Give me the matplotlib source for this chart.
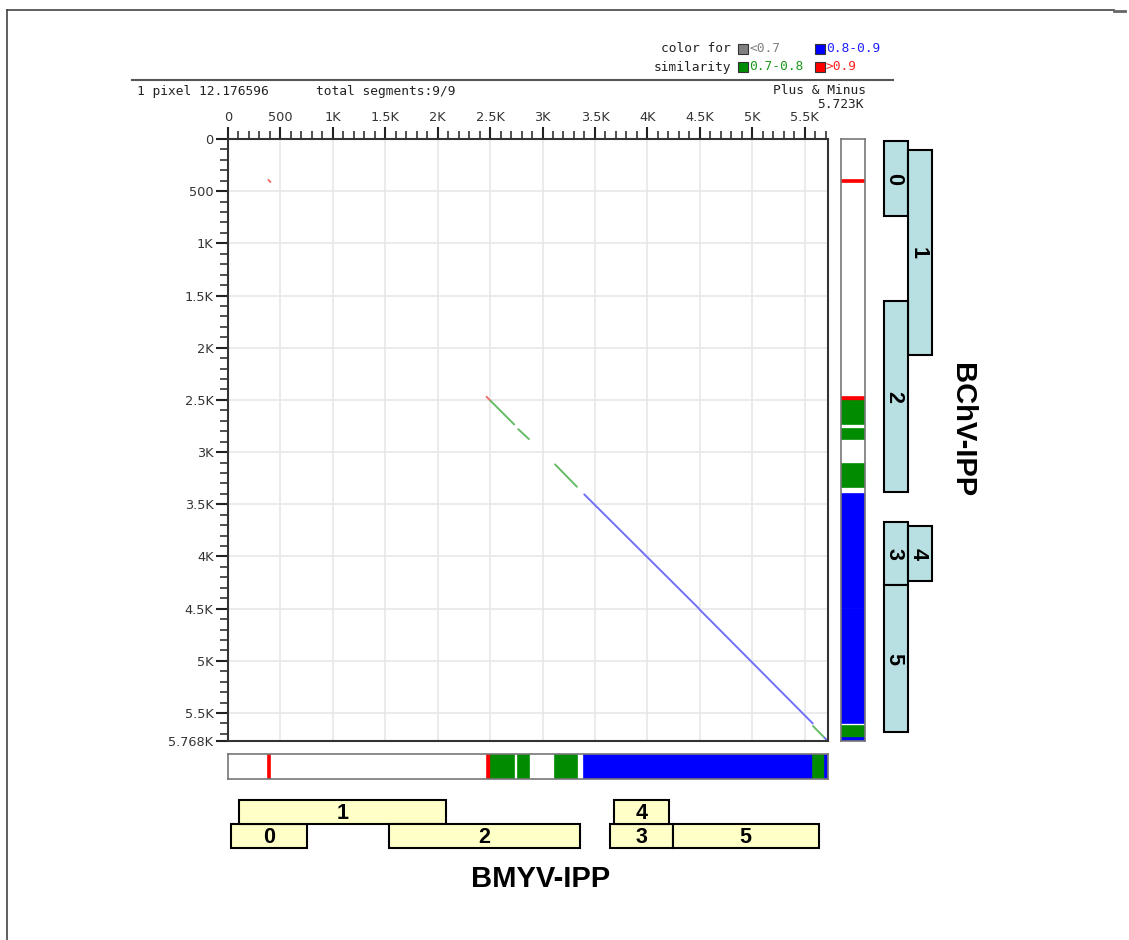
import matplotlib
matplotlib.use("Agg")
import matplotlib.pyplot as plt
from matplotlib.patches import Rectangle
from matplotlib.ticker import MultipleLocator

# ---- genome lengths ----
len_x = 5723   # BMYV-IPP
len_y = 5768   # BChV-IPP
name_x = "BMYV-IPP"
name_y = "BChV-IPP"

# ---- aligned segments (bp), similarity class per segment ----
seg_x1 = [385, 2466, 2504, 2768, 3120, 3398, 4495, 5580, 5690]
seg_x2 = [405, 2504, 2730, 2870, 3328, 4490, 5578, 5688, 5723]
seg_y1 = [392, 2470, 2508, 2780, 3118, 3405, 4505, 5625, 5738]
seg_y2 = [412, 2508, 2735, 2875, 3332, 4497, 5600, 5735, 5768]
seg_cls = ["gt09", "gt09", "07_08", "07_08", "07_08", "08_09", "08_09", "07_08", "08_09"]

# ---- ORF annotation ----
genes_x_name = ["0", "1", "2", "3", "4", "5"]
genes_x_start = [29, 105, 1535, 3642, 3680, 4242]
genes_x_end = [753, 2078, 3356, 4242, 4204, 5634]
genes_x_row = [0, 1, 0, 0, 1, 0]

genes_y_name = ["0", "1", "2", "3", "4", "5"]
genes_y_start = [23, 105, 1555, 3673, 3711, 4278]
genes_y_end = [742, 2073, 3386, 4278, 4239, 5684]
genes_y_col = [0, 1, 0, 0, 1, 0]

# ---- axis ticks ----
x_ticks = [0, 500, 1000, 1500, 2000, 2500, 3000, 3500, 4000, 4500, 5000, 5500]
x_tick_labels = ["0", "500", "1K", "1.5K", "2K", "2.5K", "3K", "3.5K", "4K", "4.5K", "5K", "5.5K"]
y_ticks = [0, 500, 1000, 1500, 2000, 2500, 3000, 3500, 4000, 4500, 5000, 5500, 5768]
y_tick_labels = ["0", "500", "1K", "1.5K", "2K", "2.5K", "3K", "3.5K", "4K", "4.5K", "5K", "5.5K", "5.768K"]

# ---- colours ----
bar_color = {"lt07": "#808080", "07_08": "#008c00", "08_09": "#0000ff", "gt09": "#ff0000"}
line_color = {"lt07": "#a0a0a0", "07_08": "#66bb66", "08_09": "#7070f8", "gt09": "#f07070"}
text_color = {"lt07": "#808080", "07_08": "#1a9a1a", "08_09": "#2020ff", "gt09": "#ff2020"}

W, H = 1129, 940
fig = plt.figure(figsize=(W / 100, H / 100), dpi=100)
fig.patch.set_facecolor("white")


def px_axes(x0, y0, x1, y1, **kw):
    return fig.add_axes([x0 / W, 1 - y1 / H, (x1 - x0) / W, (y1 - y0) / H], **kw)


# ---- overlay for header and page frame ----
ov = px_axes(0, 0, W, H)
ov.set_xlim(0, W)
ov.set_ylim(H, 0)
ov.axis("off")
ov.plot([7, 1114], [10, 10], color="#444444", lw=1.2)
ov.plot([7, 7], [10, H], color="#444444", lw=1.2)
ov.plot([1114, 1125], [11, 11], color="#666666", lw=2)
ov.plot([132, 893], [80, 80], color="#555555", lw=1.5)

mono = "DejaVu Sans Mono"
hs = 9.3
ov.text(137, 92, "1 pixel 12.176596", fontsize=hs, family=mono, va="center", ha="left", color="#222222")
ov.text(316, 92, "total segments:9/9", fontsize=hs, family=mono, va="center", ha="left", color="#222222")
ov.text(866, 91, "Plus & Minus", fontsize=hs, family=mono, va="center", ha="right", color="#222222")
ov.text(864, 104, "5.723K", fontsize=hs, family=mono, va="center", ha="right", color="#222222")

ov.text(731, 49, "color for", fontsize=hs, family=mono, va="center", ha="right", color="#222222")
ov.text(731, 67, "similarity", fontsize=hs, family=mono, va="center", ha="right", color="#222222")
legend_items = [("lt07", "<0.7", 738, 49), ("08_09", "0.8-0.9", 815, 49),
                ("07_08", "0.7-0.8", 738, 67), ("gt09", ">0.9", 815, 67)]
for cls, lab, lx, ly in legend_items:
    ov.add_patch(Rectangle((lx, ly - 5), 10, 10, facecolor=bar_color[cls], edgecolor="#333333", lw=0.8))
    ov.text(lx + 11, ly, lab, fontsize=hs, family=mono, va="center", ha="left", color=text_color[cls])

# ---- dot plot ----
ax = px_axes(228, 139, 828, 741)
ax.set_xlim(0, len_x)
ax.set_ylim(len_y, 0)
ax.xaxis.set_ticks_position("top")
ax.set_xticks(x_ticks)
ax.set_xticklabels(x_tick_labels, fontsize=9.3, color="#333333")
ax.set_yticks(y_ticks)
ax.set_yticklabels(y_tick_labels, fontsize=9.3, color="#333333")
ax.xaxis.set_minor_locator(MultipleLocator(100))
ax.yaxis.set_minor_locator(MultipleLocator(100))
ax.tick_params(which="major", direction="out", length=9, width=1.5, color="#222222", pad=1.5)
ax.tick_params(which="minor", direction="out", length=6, width=1.1, color="#222222")
ax.grid(True, which="major", color="#e8e8e8", lw=1.2)
ax.set_axisbelow(True)
for sp in ax.spines.values():
    sp.set_color("#333333")
    sp.set_linewidth(1.5)
for x1, x2, y1, y2, c in zip(seg_x1, seg_x2, seg_y1, seg_y2, seg_cls):
    ax.plot([x1, x2], [y1, y2], color=line_color[c], lw=1.4, solid_capstyle="round")

# ---- coverage bar along y ----
rb = px_axes(841, 139, 865, 741)
rb.set_ylim(len_y, 0)
rb.set_xlim(0, 1)
rb.set_xticks([])
rb.set_yticks([])
for sp in rb.spines.values():
    sp.set_color("#777777")
    sp.set_linewidth(1.2)
for y1, y2, c in zip(seg_y1, seg_y2, seg_cls):
    rb.axhspan(y1, y2, color=bar_color[c], lw=1.2)

# ---- coverage bar along x ----
bb = px_axes(228, 754, 828, 779)
bb.set_xlim(0, len_x)
bb.set_ylim(0, 1)
bb.set_xticks([])
bb.set_yticks([])
for sp in bb.spines.values():
    sp.set_color("#777777")
    sp.set_linewidth(1.2)
for x1, x2, c in zip(seg_x1, seg_x2, seg_cls):
    bb.axvspan(x1, x2, color=bar_color[c], lw=1.2)

# ---- ORF boxes along x ----
gx = px_axes(228, 800, 828, 848)
gx.set_xlim(0, len_x)
gx.set_ylim(0, 2)
gx.axis("off")
for n, s, e, r in zip(genes_x_name, genes_x_start, genes_x_end, genes_x_row):
    gx.add_patch(Rectangle((s, r), e - s, 1, facecolor="#ffffc8", edgecolor="black", lw=1.5, clip_on=False))
    gx.text((s + e) / 2, r + 0.42, n, ha="center", va="center", fontsize=15.5,
            fontweight="bold", family="Liberation Sans")
ov.text(541, 879, name_x, ha="center", va="center", fontsize=21, fontweight="bold", family="Liberation Sans")

# ---- ORF boxes along y ----
gy = px_axes(884, 139, 932, 741)
gy.set_ylim(len_y, 0)
gy.set_xlim(0, 2)
gy.axis("off")
for n, s, e, col in zip(genes_y_name, genes_y_start, genes_y_end, genes_y_col):
    gy.add_patch(Rectangle((col, s), 1, e - s, facecolor="#b8dfe2", edgecolor="black", lw=1.5, clip_on=False))
    gy.text(col + 0.42, (s + e) / 2, n, ha="center", va="center", fontsize=15.5,
            fontweight="bold", family="Liberation Sans", rotation=-90)
ov.text(962, 430, name_y, ha="center", va="center", fontsize=21, fontweight="bold",
        family="Liberation Sans", rotation=-90)

fig.savefig("out.png", dpi=100, facecolor="white")
